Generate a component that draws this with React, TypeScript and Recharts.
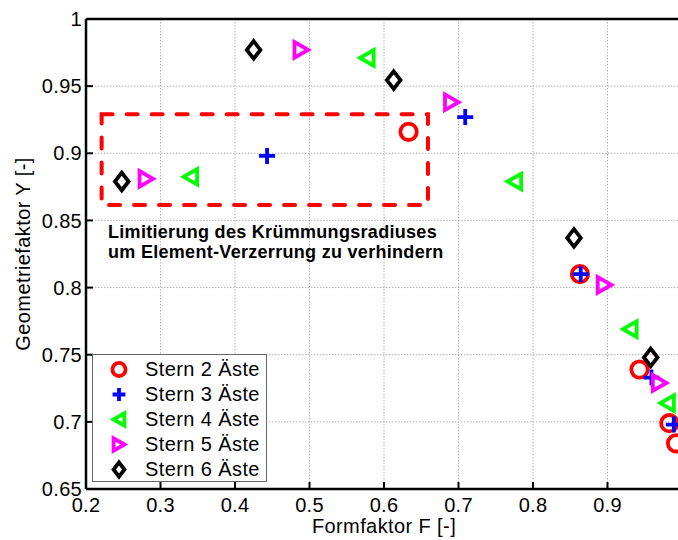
import {
  CartesianGrid,
  Legend,
  ReferenceArea,
  Scatter,
  ScatterChart,
  XAxis,
  YAxis,
} from "recharts";

type Pt = { f: number; y: number };
type Kind = "circle" | "plus" | "left" | "right" | "diamond";

// values
const stern2: Pt[] = [
  { f: 0.633, y: 0.916 },
  { f: 0.863, y: 0.81 },
  { f: 0.943, y: 0.739 },
  { f: 0.983, y: 0.699 },
  { f: 0.992, y: 0.684 },
];
const stern3: Pt[] = [
  { f: 0.443, y: 0.898 },
  { f: 0.709, y: 0.927 },
  { f: 0.864, y: 0.81 },
  { f: 0.959, y: 0.733 },
  { f: 0.989, y: 0.698 },
];
const stern4: Pt[] = [
  { f: 0.34, y: 0.8825 },
  { f: 0.577, y: 0.971 },
  { f: 0.775, y: 0.879 },
  { f: 0.93, y: 0.769 },
  { f: 0.98, y: 0.714 },
];
const stern5: Pt[] = [
  { f: 0.281, y: 0.881 },
  { f: 0.489, y: 0.977 },
  { f: 0.691, y: 0.938 },
  { f: 0.896, y: 0.802 },
  { f: 0.97, y: 0.729 },
];
const stern6: Pt[] = [
  { f: 0.248, y: 0.879 },
  { f: 0.425, y: 0.977 },
  { f: 0.613, y: 0.9545 },
  { f: 0.855, y: 0.837 },
  { f: 0.958, y: 0.748 },
];

const xTicks = [0.2, 0.3, 0.4, 0.5, 0.6, 0.7, 0.8, 0.9, 1];
const yTicks = [0.65, 0.7, 0.75, 0.8, 0.85, 0.9, 0.95, 1];

const boxF = [0.221, 0.659];
const boxY = [0.8614, 0.929];

const noteLines = [
  "Limitierung des Krümmungsradiuses",
  "um Element-Verzerrung zu verhindern",
];

const series: { name: string; data: Pt[]; kind: Kind; color: string }[] = [
  { name: "Stern 2 Äste", data: stern2, kind: "circle", color: "#ff0000" },
  { name: "Stern 3 Äste", data: stern3, kind: "plus", color: "#0000ff" },
  { name: "Stern 4 Äste", data: stern4, kind: "left", color: "#00ff00" },
  { name: "Stern 5 Äste", data: stern5, kind: "right", color: "#ff00ff" },
  { name: "Stern 6 Äste", data: stern6, kind: "diamond", color: "#000000" },
];

const FONT = '"Liberation Sans", Arial, sans-serif';

const Marker = ({
  kind,
  cx,
  cy,
  color,
  s = 1,
}: {
  kind: Kind;
  cx: number;
  cy: number;
  color: string;
  s?: number;
}) => {
  const sw = 3.8;
  if (kind === "circle")
    return <circle cx={cx} cy={cy} r={8.2 * s} fill="none" stroke={color} strokeWidth={sw} />;
  if (kind === "plus") {
    const h = 8 * s;
    return (
      <path
        d={`M${cx - h} ${cy}H${cx + h}M${cx} ${cy - h}V${cy + h}`}
        stroke={color}
        strokeWidth={sw}
        fill="none"
      />
    );
  }
  if (kind === "diamond") {
    const w = 6.8 * s;
    const h = 8.8 * s;
    return (
      <polygon
        points={`${cx},${cy - h} ${cx + w},${cy} ${cx},${cy + h} ${cx - w},${cy}`}
        fill="none"
        stroke={color}
        strokeWidth={sw}
      />
    );
  }
  const w = 6.8 * s;
  const h = 7.8 * s;
  const d = kind === "left" ? 1 : -1;
  return (
    <polygon
      points={`${cx - d * w},${cy} ${cx + d * w},${cy - h} ${cx + d * w},${cy + h}`}
      fill="none"
      stroke={color}
      strokeWidth={sw}
    />
  );
};

const LegendBox = () => (
  <div
    style={{
      position: "relative",
      width: 175,
      height: 128,
      border: "1px solid #666",
      background: "#fff",
      boxSizing: "border-box",
      fontFamily: FONT,
      fontSize: 20,
      letterSpacing: 0.4,
      color: "#000",
    }}
  >
    {series.map((s, i) => (
      <div
        key={s.name}
        style={{
          position: "absolute",
          left: 0,
          top: 1.5 + i * 25,
          height: 25,
          display: "flex",
          alignItems: "center",
          whiteSpace: "nowrap",
        }}
      >
        <svg width={52} height={25} style={{ display: "block" }}>
          <Marker kind={s.kind} cx={26} cy={12.5} color={s.color} s={0.8} />
        </svg>
        <span style={{ lineHeight: "25px" }}>{s.name}</span>
      </div>
    ))}
  </div>
);

const tickStyle = { fill: "#000", fontSize: 20, fontFamily: FONT, letterSpacing: 0.3 };
const axisStyle = { stroke: "#000", strokeWidth: 2.5 };
const tickLineStyle = { stroke: "#000", strokeWidth: 2 };

// the right end of the x axis lies past the picture's edge, so its label is not shown
const fmtX = (v: number) => (v >= 1 ? "" : String(v));

export default function App() {
  return (
    <div
      style={{
        position: "absolute",
        left: 0,
        top: 0,
        width: 678,
        height: 540,
        overflow: "hidden",
        background: "#fff",
      }}
    >
      <ScatterChart width={700} height={540} margin={{ top: 0, right: 0, bottom: 0, left: 0 }}>
        <CartesianGrid stroke="#b4b4b4" strokeDasharray="1.5 1.5" />
        <XAxis
          dataKey="f"
          type="number"
          domain={[0.2, 1]}
          ticks={xTicks}
          interval={0}
          allowDataOverflow
          height={51}
          tickSize={-7}
          tickMargin={16}
          tick={tickStyle}
          tickFormatter={fmtX}
          axisLine={axisStyle}
          tickLine={tickLineStyle}
          label={{
            value: "Formfaktor F [-]",
            position: "insideBottom",
            offset: 7,
            style: { fill: "#000", fontSize: 20, fontFamily: FONT, letterSpacing: 0.4 },
          }}
        />
        <XAxis
          xAxisId="top"
          orientation="top"
          type="number"
          domain={[0.2, 1]}
          ticks={xTicks}
          interval={0}
          height={19}
          tickSize={-7}
          tick={false}
          axisLine={axisStyle}
          tickLine={tickLineStyle}
        />
        <YAxis
          dataKey="y"
          type="number"
          domain={[0.65, 1]}
          ticks={yTicks}
          interval={0}
          allowDataOverflow
          width={86}
          tickSize={-7}
          tickMargin={11}
          tick={tickStyle}
          axisLine={axisStyle}
          tickLine={tickLineStyle}
          label={{
            value: "Geometriefaktor Y [-]",
            angle: -90,
            position: "insideLeft",
            offset: 22.5,
            style: {
              fill: "#000",
              fontSize: 20,
              fontFamily: FONT,
              letterSpacing: 0.4,
              textAnchor: "middle",
            },
          }}
        />
        <YAxis
          yAxisId="right"
          orientation="right"
          type="number"
          domain={[0.65, 1]}
          ticks={yTicks}
          interval={0}
          width={18}
          tickSize={-7}
          tick={false}
          axisLine={axisStyle}
          tickLine={tickLineStyle}
        />
        <ReferenceArea
          x1={boxF[0]}
          x2={boxF[1]}
          y1={boxY[0]}
          y2={boxY[1]}
          fill="none"
          fillOpacity={0}
          stroke="#ff0000"
          strokeWidth={4}
          strokeDasharray="11 14"
          strokeLinecap="round"
          ifOverflow="visible"
        />
        {series.map((s) => (
          <Scatter
            key={s.name}
            name={s.name}
            data={s.data}
            isAnimationActive={false}
            shape={(p: any) => <Marker kind={s.kind} cx={p.cx} cy={p.cy} color={s.color} />}
          />
        ))}
        <Legend
          layout="vertical"
          align="center"
          verticalAlign="middle"
          content={() => <LegendBox />}
          wrapperStyle={{ left: 92, top: 354, width: 175, height: 128 }}
        />
        <g fontFamily={FONT} fontWeight="bold" fontSize={18} letterSpacing={0.3} fill="#000">
          {noteLines.map((t, i) => (
            <text key={t} x={108} y={238 + i * 20}>
              {t}
            </text>
          ))}
        </g>
      </ScatterChart>
    </div>
  );
}
